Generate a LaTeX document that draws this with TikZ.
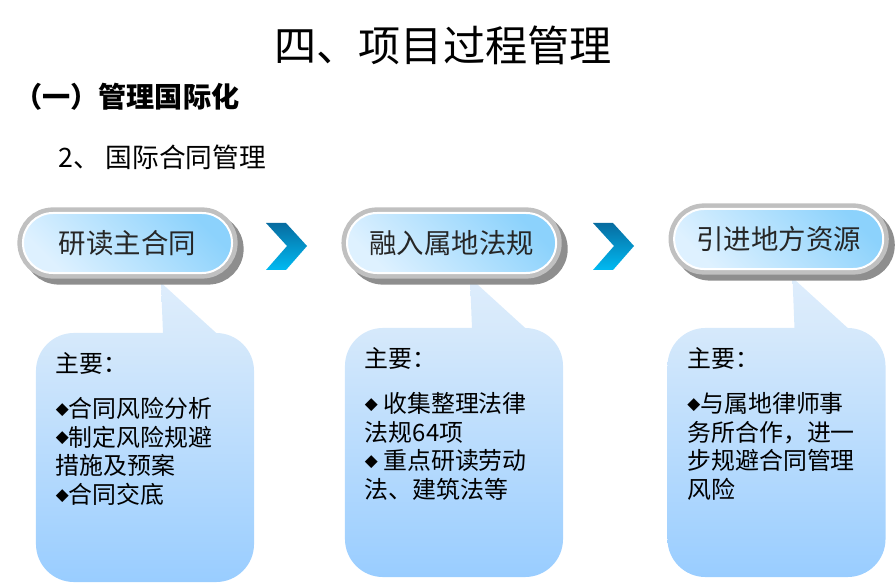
\documentclass[tikz,border=0pt]{standalone}
\usepackage{fontspec}
\setmainfont{Noto Sans CJK SC}
\newfontfamily\symfont{DejaVu Sans}
\usepackage{xcolor}
\definecolor{pilllight}{RGB}{222,241,255}
\definecolor{pilldark}{RGB}{140,210,252}
\definecolor{pillrim}{RGB}{192,192,192}
\definecolor{pillshadow}{RGB}{142,142,142}
\definecolor{boxtop}{RGB}{214,233,251}
\definecolor{boxbot}{RGB}{153,205,255}
\definecolor{tailtop}{RGB}{222,237,252}
\definecolor{chevtop}{RGB}{8,108,160}
\definecolor{chevbot}{RGB}{0,186,242}
\usepackage{tikz}
\usetikzlibrary{shapes.misc, positioning, calc}
\newcommand{\dia}{\raisebox{2.5pt}{\symfont\fontsize{12pt}{12pt}\selectfont ◆}}
\tikzset{
  pill/.style={
    rounded rectangle, minimum width=5.225cm, minimum height=1.5cm,
    inner sep=0pt, font=\fontsize{19.5pt}{22pt}\selectfont, text=black!85,
    preaction={fill=pillshadow, draw=pillshadow, line width=0.28cm,
      transform canvas={shift={(0.15cm,-0.15cm)}}},
    preaction={draw=pillrim, line width=0.28cm},
    draw=white, line width=0.05cm,
    top color=pilldark, bottom color=pilllight, shading angle=-45},
  callout/.style={
    rectangle, rounded corners=0.95cm, minimum width=5.45cm,
    minimum height=6.225cm, inner sep=0pt,
    top color=boxtop, bottom color=boxbot},
  tail/.style={top color=tailtop, bottom color=boxtop},
  note/.style={
    anchor=north west, inner sep=0pt, align=left,
    font=\fontsize{17pt}{20.3pt}\selectfont},
  chev/.style={top color=chevtop, bottom color=chevbot},
}
\begin{document}
\begin{tikzpicture}[x=0.025cm, y=-0.025cm]
  \useasboundingbox (0,0) rectangle (896,584);
  % headings
  \node[font=\fontsize{30pt}{34pt}\selectfont] (title) at (443,45) {四、项目过程管理};
  \node[anchor=west, inner sep=0pt, font=\fontsize{20pt}{24pt}\selectfont\bfseries] (sec) at (14,97) {（一）管理国际化};
  \node[anchor=west, inner sep=0pt, font=\fontsize{19pt}{22pt}\selectfont] (sub) at (58,157) {2、 国际合同管理};
  % callout boxes
  \node[callout] (box1) at (145,457.5) {};
  \node[callout] (box2) at (454,452.5) {};
  \node[callout] (box3) at (776.5,452.5) {};
  \foreach \b in {box1,box2,box3}
    \shade[tail] ($(\b.north)+(16,-50)$) -- ($(\b.north)+(18,1)$) -- ($(\b.north)+(72,1)$) -- cycle;
  % steps
  \node[pill] (pill1) at (127.5,243) {研读主合同};
  \node[pill, right=2.825cm of pill1] (pill2) {融入属地法规};
  \node[pill, right=2.9cm of pill2, yshift=0.1cm] (pill3) {引进地方资源};
  \foreach \cx in {266,593}
    \shade[chev] (\cx,223) -- ++(20,0) -- ++(21,23) -- ++(-21,24) -- ++(-20,0) -- ++(21,-24) -- cycle;
  % notes
  \node[note] (note1) at ($(box1.north west)+(20,20)$) {主要：\\[0.41cm]
    \dia 合同风险分析\\\dia 制定风险规避\\措施及预案\\\dia 合同交底};
  \node[note] (note2) at ($(box2.north west)+(20,20)$) {主要：\\[0.41cm]
    \dia{} 收集整理法律\\法规64项\\\dia{} 重点研读劳动\\法、建筑法等};
  \node[note] (note3) at ($(box3.north west)+(20,20)$) {主要：\\[0.41cm]
    \dia 与属地律师事\\务所合作，进一\\步规避合同管理\\风险};
\end{tikzpicture}
\end{document}
